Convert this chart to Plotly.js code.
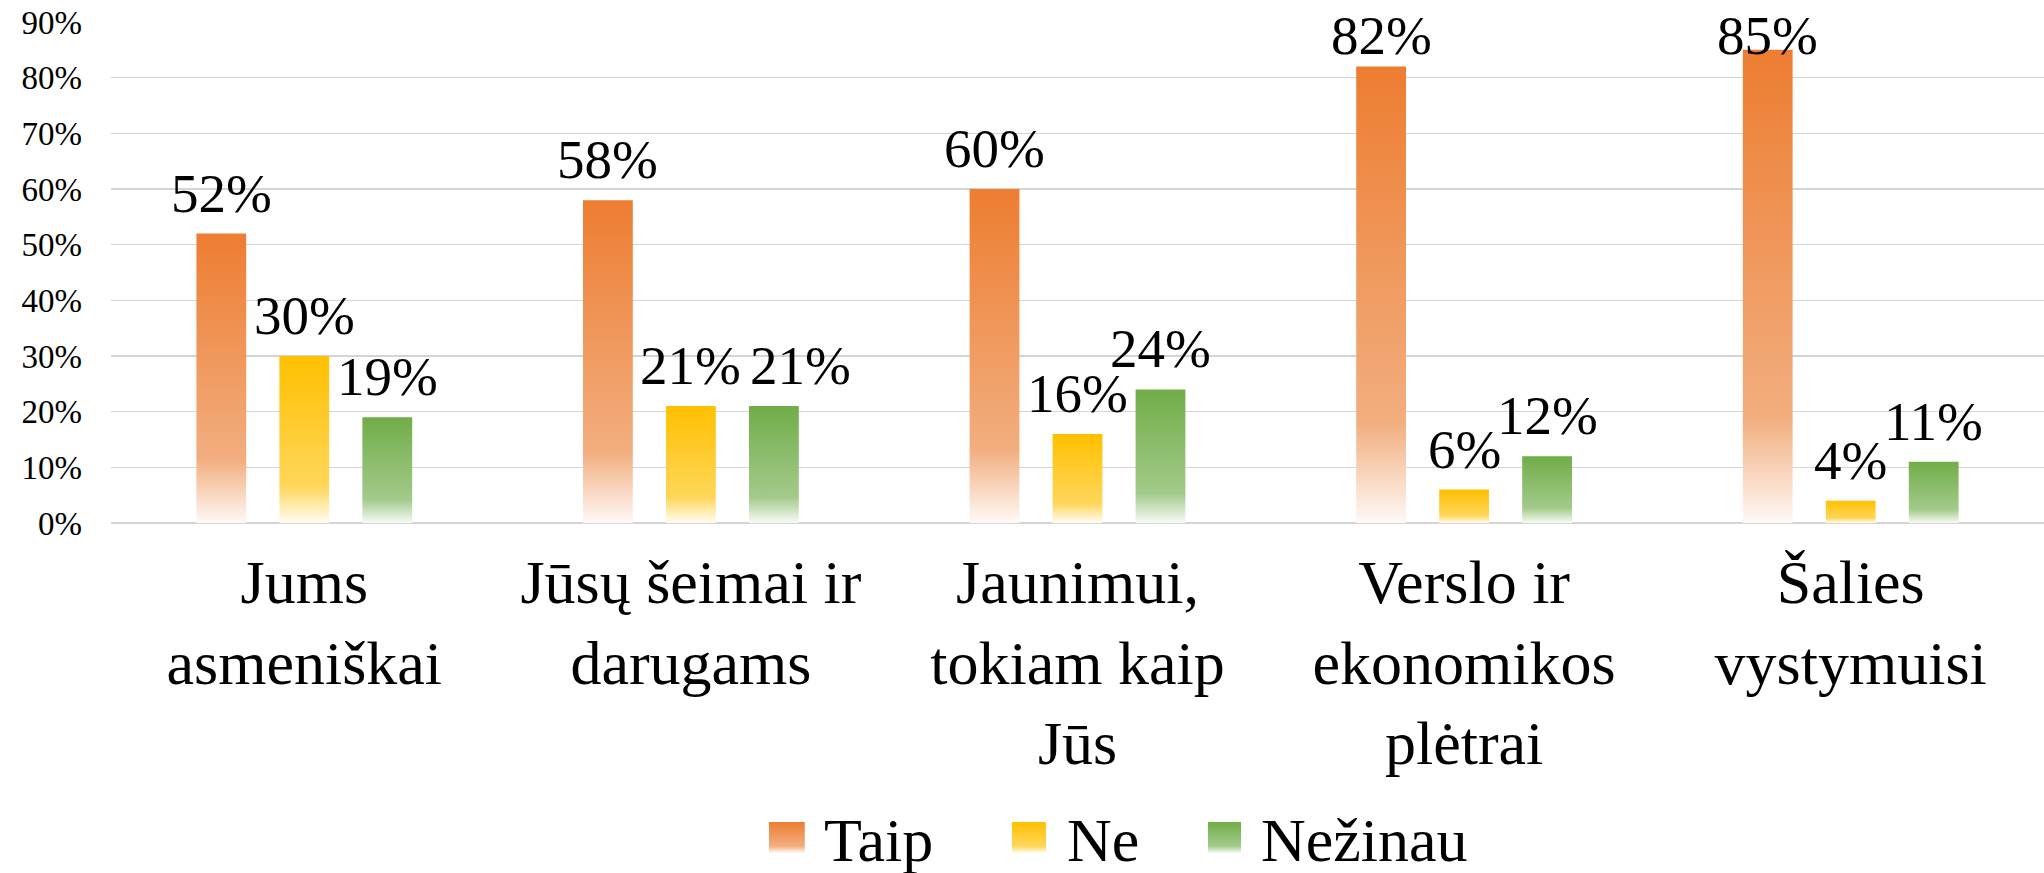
<!DOCTYPE html>
<html>
<head>
<meta charset="utf-8">
<script src="https://cdn.plot.ly/plotly-3.0.1.min.js"></script>
<style>
html,body{margin:0;padding:0;background:#fff;overflow:hidden;}
#chart{width:2044px;height:873px;}
</style>
</head>
<body>
<div id="chart"></div>
<script>
// ---- data ----
const categories = [
  "Jums<br>asmeniškai",
  "Jūsų šeimai ir<br>darugams",
  "Jaunimui,<br>tokiam kaip<br>Jūs",
  "Verslo ir<br>ekonomikos<br>plėtrai",
  "Šalies<br>vystymuisi"
];
const seriesNames = ["Taip", "Ne", "Nežinau"];
const taip = [52, 58, 60, 82, 85];
const ne = [30, 21, 16, 6, 4];
const nezinau = [19, 21, 24, 12, 11];
const yTicks = [0, 10, 20, 30, 40, 50, 60, 70, 80, 90];

// ---- style ----
const topColors = ["#ED7D31", "#FFC000", "#70AD47"];
const midColors = ["#F2AE7F", "#FFD65A", "#A3CA8B"];
const botColors = ["#FEF9F6", "#FFFDF4", "#F7FBF5"];
const FONT = 'Liberation Serif, Times New Roman, serif';
const SLOT = 83;          // px between grouped bar centres
const LABEL_CAP = 80.3;   // labels of taller bars are kept inside the chart area (as in the original)
const labelNudge = [[0,0,0,0,0],[0,0,0,0,0],[0,27,0,0,0]];

const values = [taip, ne, nezinau];

const traces = values.map((v, i) => ({
  type: 'bar',
  name: seriesNames[i],
  x: categories,
  y: v,
  marker: {color: topColors[i], line: {width: 0}},
  showlegend: false,
  hoverinfo: 'skip'
}));

const annotations = [];
values.forEach((v, i) => {
  v.forEach((d, j) => {
    annotations.push({
      x: categories[j], y: Math.min(d, LABEL_CAP), xref: 'x', yref: 'y',
      text: d + '%', showarrow: false,
      xanchor: 'center', yanchor: 'bottom',
      xshift: (i - 1) * SLOT + labelNudge[i][j], yshift: 8,
      font: {family: FONT, size: 55, color: '#000'}
    });
  });
});

// manual legend (positions in paper coords)
const legSwatch = [[0.3404, 0.3589], [0.4661, 0.4837], [0.5675, 0.5846]];
const legTextX = [0.3678, 0.4935, 0.5939];
const shapes = [];
seriesNames.forEach((n, i) => {
  shapes.push({
    type: 'rect', xref: 'paper', yref: 'paper',
    x0: legSwatch[i][0], x1: legSwatch[i][1], y0: -0.6587, y1: -0.5968,
    fillcolor: topColors[i], line: {width: 0}
  });
  annotations.push({
    x: legTextX[i], y: -0.6327, xref: 'paper', yref: 'paper',
    text: n, showarrow: false, xanchor: 'left', yanchor: 'middle',
    font: {family: FONT, size: 62, color: '#000'}
  });
});

const layout = {
  width: 2044,
  height: 873,
  margin: {l: 111, r: 0, t: 22, b: 350, autoexpand: false},
  paper_bgcolor: '#fff',
  plot_bgcolor: '#fff',
  barmode: 'group',
  bargap: 0.356,
  bargroupgap: 0.40,
  font: {family: FONT, color: '#000'},
  showlegend: false,
  xaxis: {
    showgrid: false,
    showline: false,
    ticks: '',
    tickfont: {family: FONT, size: 62, color: '#000'},
    ticklabelstandoff: 17,
    automargin: false
  },
  yaxis: {
    range: [0, 90],
    tickvals: yTicks,
    ticktext: yTicks.map(t => t + '%'),
    showgrid: true,
    gridcolor: '#D4D4D4',
    gridwidth: 1.5,
    zeroline: true,
    zerolinecolor: '#D4D4D4',
    zerolinewidth: 1.5,
    showline: false,
    ticks: '',
    tickfont: {family: FONT, size: 33, color: '#000'},
    ticklabelstandoff: 28,
    automargin: false
  },
  annotations: annotations,
  shapes: shapes
};

function applyGradients(gd) {
  const ns = 'http://www.w3.org/2000/svg';
  const svg = gd.querySelector('.main-svg');
  let defs = svg.querySelector('defs');
  if (!defs) {
    defs = document.createElementNS(ns, 'defs');
    svg.insertBefore(defs, svg.firstChild);
  }
  for (let i = 0; i < 3; i++) {
    if (document.getElementById('barGrad' + i)) continue;
    const lg = document.createElementNS(ns, 'linearGradient');
    lg.setAttribute('id', 'barGrad' + i);
    lg.setAttribute('x1', '0'); lg.setAttribute('y1', '0');
    lg.setAttribute('x2', '0'); lg.setAttribute('y2', '1');
    [[0, topColors[i]], [0.78, midColors[i]], [1, botColors[i]]].forEach(([o, c]) => {
      const st = document.createElementNS(ns, 'stop');
      st.setAttribute('offset', o);
      st.setAttribute('stop-color', c);
      lg.appendChild(st);
    });
    defs.appendChild(lg);
  }
  gd.querySelectorAll('.barlayer .trace').forEach((tr, i) => {
    tr.querySelectorAll('.point path').forEach(p => {
      p.style.fill = 'url(#barGrad' + i + ')';
    });
  });
  gd.querySelectorAll('.shapelayer path').forEach((p, i) => {
    p.style.fill = 'url(#barGrad' + (i % 3) + ')';
    p.style.fillOpacity = 1;
  });
}

Plotly.newPlot('chart', traces, layout, {staticPlot: true}).then(applyGradients);
</script>
</body>
</html>
